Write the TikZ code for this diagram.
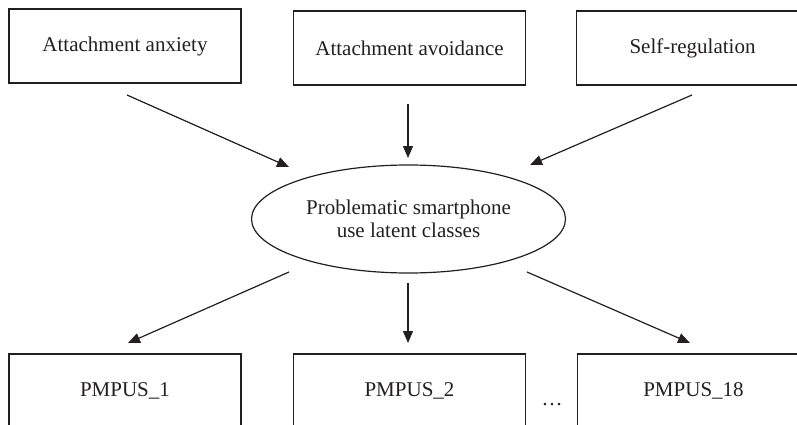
\documentclass[tikz,border=0pt]{standalone}
\usepackage{fontspec}
\setmainfont{Liberation Serif}
\usetikzlibrary{arrows.meta,shapes.geometric}
\definecolor{ink}{HTML}{231F20}
\begin{document}
\begin{tikzpicture}[x=1pt,y=-1pt,
  box/.style={draw=ink,line width=1.2pt,minimum width=232pt,minimum height=74pt,inner sep=0pt,text=ink,font=\fontsize{21}{25}\selectfont},
  oval/.style={draw=ink,line width=1.2pt,ellipse,minimum width=314pt,minimum height=108pt,inner sep=0pt,text=ink,align=center,font=\fontsize{21}{23}\selectfont},
  arr/.style={draw=ink,line width=1.2pt,-{Triangle[length=12pt,width=10pt]}}]
\path[use as bounding box] (0,0) rectangle (797,425);
\clip (0,0) rectangle (797,425);
\node[box] (a1) at (125,46) {Attachment anxiety};
\node[box] (a2) at (409.5,48) {Attachment avoidance};
\node[box] (a3) at (692.5,48) {Self-regulation};
\node[oval] (e) at (408.5,219) {Problematic smartphone\\use latent classes};
\node[box] (b1) at (125,391) {PMPUS\_1};
\node[box] (b2) at (409.5,391) {PMPUS\_2};
\node[box] (b3) at (693.5,391) {PMPUS\_18};
\node[text=ink,font=\fontsize{21}{25}\selectfont] (dots) at (552,405) {\ldots};
\coordinate (s1) at (127,95);
\coordinate (t1) at (289,167);
\coordinate (s2) at (408,104);
\coordinate (t2) at (408,158);
\coordinate (s3) at (692,95);
\coordinate (t3) at (530,165);
\coordinate (u1) at (289,272);
\coordinate (v1) at (128,343);
\coordinate (u2) at (408,283);
\coordinate (v2) at (408,343);
\coordinate (u3) at (527,272);
\coordinate (v3) at (690,343);
\draw[arr] (s1) -- (t1);
\draw[arr] (s2) -- (t2);
\draw[arr] (s3) -- (t3);
\draw[arr] (u1) -- (v1);
\draw[arr] (u2) -- (v2);
\draw[arr] (u3) -- (v3);
\end{tikzpicture}
\end{document}
